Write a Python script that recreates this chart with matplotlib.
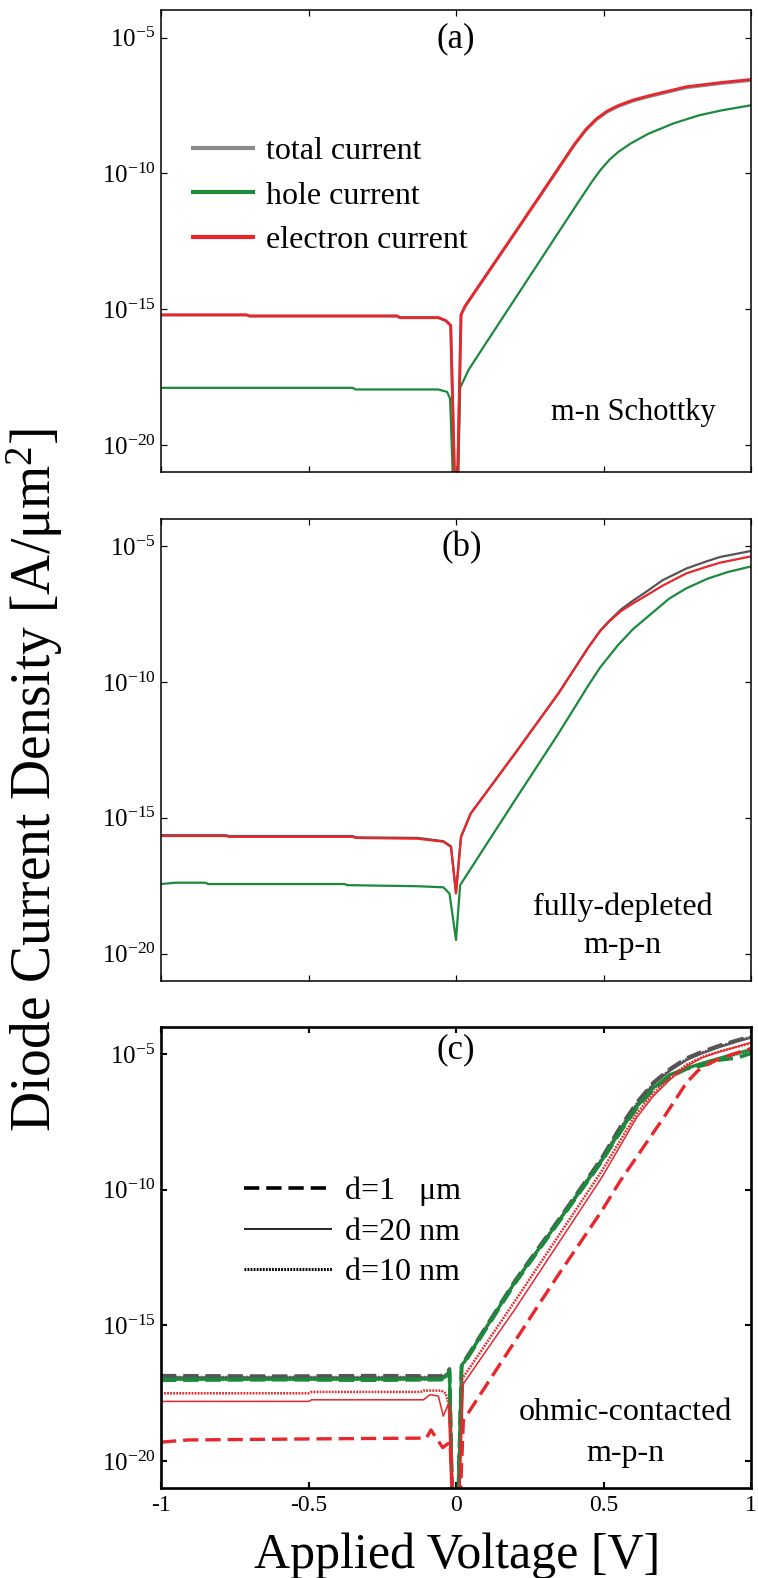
import numpy as np
import matplotlib
matplotlib.use("Agg")
import matplotlib.pyplot as plt
from matplotlib.ticker import FixedLocator, FixedFormatter

plt.rcParams['font.family'] = ['Liberation Serif', 'DejaVu Serif']
plt.rcParams['mathtext.fontset'] = 'custom'
plt.rcParams['mathtext.rm'] = 'Liberation Serif'
plt.rcParams['mathtext.it'] = 'Liberation Serif:italic'
plt.rcParams['lines.scale_dashes'] = False
plt.rcParams['lines.solid_capstyle'] = 'butt'

GRAY = '#8a8a8a'
DGRAY = '#555555'
RED = '#e8262b'
GREEN = '#1b8a3c'

# log10 of current density [A/um^2] vs applied voltage [V]

# (a) m-n Schottky
a_tot_v = [-1, -0.71, -0.70, -0.2, -0.19, -0.06, -0.035, -0.018, -0.003, 0.004, 0.017, 0.03, 0.1, 0.2,
           0.3, 0.4, 0.44, 0.477, 0.513, 0.55, 0.6, 0.65, 0.7, 0.78, 0.9, 1.0]
a_tot_log = [-15.22, -15.22, -15.26, -15.26, -15.32, -15.32, -15.42, -15.6, -22, -22, -15.22, -14.92, -13.8,
             -12.2, -10.6, -8.98, -8.42, -8.02, -7.74, -7.54, -7.34, -7.19, -7.06, -6.85, -6.69, -6.58]
a_elec_v = [-1, -0.71, -0.70, -0.2, -0.19, -0.06, -0.035, -0.018, -0.003, 0.004, 0.017, 0.03, 0.1, 0.2,
            0.3, 0.4, 0.44, 0.477, 0.513, 0.55, 0.6, 0.65, 0.7, 0.78, 0.9, 1.0]
a_elec_log = [-15.21, -15.21, -15.25, -15.25, -15.31, -15.31, -15.42, -15.6, -22, -22, -15.21, -14.9, -13.78,
              -12.18, -10.57, -8.95, -8.38, -7.98, -7.7, -7.5, -7.3, -7.15, -7.02, -6.81, -6.65, -6.54]
a_hole_v = [-1, -0.35, -0.34, -0.06, -0.03, -0.02, -0.008, 0.006, 0.014, 0.043, 0.1, 0.2, 0.347, 0.42,
            0.46, 0.49, 0.52, 0.549, 0.592, 0.65, 0.737, 0.824, 0.9, 1.0]
a_hole_log = [-17.9, -17.9, -17.96, -17.96, -18.05, -18.3, -22, -22, -17.9, -17.23, -16.28, -14.62, -12.18,
              -10.97, -10.32, -9.87, -9.5, -9.22, -8.9, -8.55, -8.16, -7.86, -7.68, -7.49]

# (b) fully-depleted m-p-n
b_tot_v = [-1, -0.78, -0.77, -0.35, -0.34, -0.13, -0.043, -0.017, 0.0, 0.017, 0.05, 0.2, 0.347, 0.45,
           0.49, 0.52, 0.56, 0.6, 0.636, 0.7, 0.78, 0.85, 0.896, 1.0]
b_tot_log = [-15.64, -15.64, -15.67, -15.67, -15.72, -15.74, -15.86, -16.05, -17.75, -15.7, -14.84, -12.63,
             -10.42, -8.7, -8.09, -7.74, -7.32, -7.0, -6.74, -6.25, -5.82, -5.55, -5.39, -5.17]
b_elec_v = [-1, -0.78, -0.77, -0.35, -0.34, -0.13, -0.043, -0.017, 0.0, 0.017, 0.05, 0.2, 0.347, 0.45,
            0.49, 0.52, 0.56, 0.6, 0.636, 0.7, 0.78, 0.85, 0.896, 1.0]
b_elec_log = [-15.67, -15.67, -15.7, -15.7, -15.74, -15.77, -15.88, -16.07, -17.79, -15.7, -14.84, -12.63,
              -10.42, -8.7, -8.1, -7.76, -7.38, -7.1, -6.87, -6.45, -6.0, -5.75, -5.6, -5.37]
b_hole_v = [-1, -0.95, -0.85, -0.84, -0.376, -0.37, -0.13, -0.043, -0.022, 0.0, 0.014, 0.043, 0.2, 0.347,
            0.45, 0.49, 0.549, 0.6, 0.636, 0.722, 0.78, 0.853, 0.92, 1.0]
b_hole_log = [-17.44, -17.39, -17.39, -17.44, -17.44, -17.48, -17.52, -17.56, -17.79, -19.5, -17.48, -16.99,
              -14.35, -11.9, -10.1, -9.44, -8.64, -8.05, -7.72, -6.93, -6.55, -6.19, -5.95, -5.74]

# (c) ohmic-contacted m-p-n, three layer thicknesses d
c_v_cluster = [-1, -0.6, -0.3, -0.05, -0.03, -0.022, -0.012, 0.006, 0.019, 0.03, 0.2, 0.348, 0.493, 0.556,
               0.612, 0.669, 0.725, 0.782, 0.838, 0.895, 0.951, 1.0]
c_tot_1um_log = [-16.85, -16.87, -16.85, -16.86, -16.75, -16.6, -22, -22, -16.43, -16.28, -13.35, -11.1,
                 -8.85, -7.7, -6.8, -6.05, -5.55, -5.15, -4.9, -4.68, -4.5, -4.35]
c_tot_20nm_log = [-16.92, -16.92, -16.93, -16.92, -16.8, -16.65, -22, -22, -16.48, -16.33, -13.4, -11.15,
                  -8.9, -7.78, -6.88, -6.12, -5.62, -5.22, -4.96, -4.74, -4.55, -4.4]
c_tot_10nm_log = [-16.9, -16.9, -16.9, -16.9, -16.78, -16.62, -22, -22, -16.45, -16.3, -13.38, -11.12,
                  -8.87, -7.74, -6.84, -6.08, -5.58, -5.18, -4.93, -4.71, -4.52, -4.37]
c_hole_1um_log = [-17.02, -17.0, -17.02, -17.0, -16.9, -16.7, -22, -22, -16.5, -16.36, -13.45, -11.2,
                  -8.98, -7.9, -7.0, -6.3, -5.85, -5.55, -5.42, -5.22, -5.15, -4.98]
c_hole_20nm_log = [-16.98, -16.98, -16.98, -16.97, -16.85, -16.65, -22, -22, -16.46, -16.32, -13.4, -11.16,
                   -8.95, -7.85, -6.95, -6.25, -5.76, -5.52, -5.33, -5.15, -4.98, -4.84]
c_hole_10nm_log = [-17.0, -17.0, -17.0, -16.99, -16.88, -16.68, -22, -22, -16.48, -16.34, -13.42, -11.18,
                   -8.96, -7.88, -6.98, -6.28, -5.78, -5.55, -5.37, -5.18, -5.02, -4.88]

c_elec_10nm_v = [-1, -0.5, -0.49, -0.12, -0.11, -0.05, -0.035, -0.02, -0.008, 0.01, 0.022, 0.2, 0.493,
                 0.556, 0.612, 0.669, 0.725, 0.782, 0.838, 0.895, 1.0]
c_elec_10nm_log = [-17.5, -17.5, -17.45, -17.45, -17.4, -17.4, -17.5, -18.1, -22, -22, -16.95, -14.1, -9.33,
                   -8.2, -7.2, -6.44, -5.88, -5.39, -5.1, -4.9, -4.6]
c_elec_20nm_v = [-1, -0.5, -0.49, -0.11, -0.088, -0.06, -0.043, -0.026, -0.012, 0.01, 0.025, 0.2, 0.493,
                 0.556, 0.612, 0.669, 0.725, 0.782, 0.838, 0.895, 1.0]
c_elec_20nm_log = [-17.8, -17.8, -17.74, -17.74, -17.55, -17.6, -18.34, -17.9, -22, -22, -17.15, -14.4, -9.57,
                   -8.4, -7.35, -6.55, -5.95, -5.45, -5.12, -4.92, -4.58]
c_elec_1um_v = [-1, -0.91, -0.48, -0.1, -0.085, -0.045, -0.02, -0.01, 0.012, 0.025, 0.273, 0.348, 0.493,
                0.556, 0.703, 0.782, 0.82, 0.85, 0.884, 0.94, 1.0]
c_elec_1um_log = [-19.3, -19.22, -19.18, -19.15, -18.85, -19.5, -19.3, -22, -22, -18.5, -14.36, -13.12,
                  -10.8, -9.69, -7.36, -6.05, -5.62, -5.4, -5.22, -5.0, -4.8]

x_ticks = [-1, -0.5, 0, 0.5, 1]
x_ticklabels = ['-1', '-0.5', '0', '0.5', '1']
y_ticks = [1e-5, 1e-10, 1e-15, 1e-20]
y_ticklabels = [r'$10^{-5}$', r'$10^{-10}$', r'$10^{-15}$', r'$10^{-20}$']

DASH = (0, (11, 5))
DOT = (0, (1.3, 0.9))

fig = plt.figure(figsize=(7.58, 15.78), dpi=100)
left, width, height = 161 / 758, 590 / 758, 461.5 / 1578
ax_a = fig.add_axes([left, 1 - 472 / 1578, width, height])
ax_b = fig.add_axes([left, 1 - 980.7 / 1578, width, height])
ax_c = fig.add_axes([left, 1 - 1488.3 / 1578, width, height])


def style_axes(ax, spine_w):
    ax.set_yscale('log')
    ax.set_xlim(-1, 1)
    ax.set_ylim(1e-21, 1e-4)
    ax.xaxis.set_major_locator(FixedLocator(x_ticks))
    ax.yaxis.set_major_locator(FixedLocator(y_ticks))
    ax.yaxis.set_major_formatter(FixedFormatter(y_ticklabels))
    ax.yaxis.set_minor_locator(FixedLocator([]))
    ax.tick_params(which='both', direction='in', top=True, right=True, length=4.5,
                   width=spine_w * 0.8, labelsize=18)
    ax.tick_params(axis='y', pad=4)
    for s in ax.spines.values():
        s.set_linewidth(spine_w)
    ax.set_xticklabels([])


def logline(ax, v, lg, **kw):
    ax.plot(v, 10.0 ** np.asarray(lg), **kw)


for ax, w in ((ax_a, 1.1), (ax_b, 1.1), (ax_c, 1.9)):
    style_axes(ax, w)

# (a)
logline(ax_a, a_tot_v, a_tot_log, color=GRAY, lw=2.0, label='total current')
logline(ax_a, a_hole_v, a_hole_log, color=GREEN, lw=1.6, label='hole current')
logline(ax_a, a_elec_v, a_elec_log, color=RED, lw=2.0, label='electron current')
leg_a = ax_a.legend(loc='center left', bbox_to_anchor=(0.051, (472 - 196) / 461.5), frameon=False,
                    fontsize=23, handlelength=2.0, handletextpad=0.33, labelspacing=0.48, borderpad=0,
                    borderaxespad=0)
for h in leg_a.get_lines():
    h.set_linewidth(3)
ax_a.text(0, 10 ** -5.05, '(a)', ha='center', va='center', fontsize=25)
ax_a.text(0.6, 10 ** -18.8, 'm-n Schottky', ha='center', va='center', fontsize=22)

# (b)
logline(ax_b, b_tot_v, b_tot_log, color=DGRAY, lw=1.6)
logline(ax_b, b_hole_v, b_hole_log, color=GREEN, lw=1.6)
logline(ax_b, b_elec_v, b_elec_log, color=RED, lw=1.6)
ax_b.text(0.02, 10 ** -5.05, '(b)', ha='center', va='center', fontsize=25)
ax_b.text(0.565, 10 ** -18.3, 'fully-depleted', ha='center', va='center', fontsize=23)
ax_b.text(0.565, 10 ** -19.7, 'm-p-n', ha='center', va='center', fontsize=23)

# (c)
logline(ax_c, c_v_cluster, c_tot_20nm_log, color=DGRAY, lw=1.6)
logline(ax_c, c_v_cluster, c_tot_10nm_log, color=DGRAY, lw=1.8, linestyle=DOT)
logline(ax_c, c_v_cluster, c_tot_1um_log, color=DGRAY, lw=2.6, linestyle=DASH)
logline(ax_c, c_v_cluster, c_hole_1um_log, color=GREEN, lw=2.6, linestyle=DASH)
logline(ax_c, c_v_cluster, c_hole_10nm_log, color=GREEN, lw=1.8, linestyle=DOT)
logline(ax_c, c_v_cluster, c_hole_20nm_log, color=GREEN, lw=2.2)
logline(ax_c, c_elec_1um_v, c_elec_1um_log, color=RED, lw=2.4, linestyle=DASH)
logline(ax_c, c_elec_20nm_v, c_elec_20nm_log, color=RED, lw=1.1)
logline(ax_c, c_elec_10nm_v, c_elec_10nm_log, color=RED, lw=1.8, linestyle=DOT)

h1, = ax_c.plot([], [], color='black', lw=2.6, linestyle=DASH)
h2, = ax_c.plot([], [], color='black', lw=1.2)
h3, = ax_c.plot([], [], color='black', lw=2.2, linestyle=DOT)
ax_c.legend([h1, h2, h3], ['d=1   \u03bcm', 'd=20 nm', 'd=10 nm'], loc='center left',
            bbox_to_anchor=((244 - 161) / 590, (1488.3 - 1232) / 461.5), frameon=False, fontsize=23,
            handlelength=2.75, handletextpad=0.4, labelspacing=0.35, borderpad=0, borderaxespad=0)
ax_c.text(0, 10 ** -4.85, '(c)', ha='center', va='center', fontsize=25)
ax_c.text(0.575, 10 ** -18.2, 'ohmic-contacted', ha='center', va='center', fontsize=23)
ax_c.text(0.575, 10 ** -19.7, 'm-p-n', ha='center', va='center', fontsize=23)

ax_c.set_xticklabels(x_ticklabels)
ax_c.tick_params(axis='x', labelsize=17, pad=5)

fig.text(35 / 758, 1 - 780 / 1578, 'Diode Current Density [A/\u03bcm$^2$]', rotation=90,
         ha='center', va='center', fontsize=40)
fig.text(457 / 758, 1 - 1556 / 1578, 'Applied Voltage [V]', ha='center', va='center', fontsize=36)

fig.savefig('out.png', dpi=100)
